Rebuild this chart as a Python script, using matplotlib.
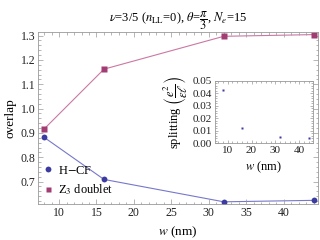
import matplotlib
matplotlib.use("Agg")
import matplotlib.pyplot as plt
from matplotlib.lines import Line2D
from matplotlib.ticker import MultipleLocator

plt.rcParams['font.family'] = ['Liberation Serif', 'DejaVu Serif']
plt.rcParams['mathtext.fontset'] = 'stix'

w = [8, 16, 32, 44]
hcf = [0.882, 0.709, 0.617, 0.623]
z3 = [0.916, 1.162, 1.297, 1.304]
splitting = [0.043, 0.012, 0.005, 0.004]

blue = '#3b3ba0'
blue_line = '#7777cc'
purple = '#a23c72'
purple_line = '#cc77a2'
frame = '#999999'

fig = plt.figure(figsize=(3.2, 2.4), dpi=100)
ax = fig.add_axes([0.119, 0.15, 0.875, 0.717])

ax.plot(w, hcf, '-', color=blue_line, lw=0.8, zorder=1)
ax.plot(w, hcf, 'o', color=blue, ms=4.2, mec='none', zorder=2)
ax.plot(w, z3, '-', color=purple_line, lw=0.8, zorder=1)
ax.plot(w, z3, 's', color=purple, ms=4, mec='none', zorder=2)

ax.set_xlim(7.2, 44.6)
ax.set_ylim(0.608, 1.315)
ax.xaxis.set_major_locator(MultipleLocator(5))
ax.xaxis.set_minor_locator(MultipleLocator(1))
ax.yaxis.set_major_locator(MultipleLocator(0.1))
ax.yaxis.set_minor_locator(MultipleLocator(0.02))
ax.yaxis.set_major_formatter(matplotlib.ticker.FormatStrFormatter('%.1f'))
ax.tick_params(which='both', direction='in', top=True, right=True, colors=frame,
               labelcolor='#222222', labelsize=8.5, pad=2)
ax.tick_params(which='major', length=3.5, width=0.5)
ax.tick_params(which='minor', length=1.8, width=0.5)
for s in ax.spines.values():
    s.set_color(frame)
    s.set_linewidth(0.6)

ax.set_xlabel(r'$w$ (nm)', fontsize=9.5, labelpad=4)
ax.set_ylabel('overlap', fontsize=9.5, labelpad=3)
ax.set_title(r'$\nu$=3/5 ($n_{\rm LL}$=0), $\theta$=$\dfrac{\pi}{3}$, $N_e$=15', fontsize=9, pad=1)

handles = [Line2D([], [], marker='o', color=blue, ls='none', ms=4.2, mec='none'),
           Line2D([], [], marker='s', color=purple, ls='none', ms=3.6, mec='none')]
ax.legend(handles, ['H$-$CF', r'Z$_3$ doublet'], loc='lower left', frameon=False,
          fontsize=9, handlelength=0.8, handletextpad=0.4, labelspacing=0.45,
          borderaxespad=0.0, bbox_to_anchor=(0.0, 0.01))

ins = fig.add_axes([0.672, 0.403, 0.305, 0.26])
ins.plot(w, splitting, 's', color=blue, ms=1.6, mec='none')
ins.set_xlim(4.7, 45.6)
ins.set_ylim(0, 0.05)
ins.xaxis.set_major_locator(MultipleLocator(10))
ins.xaxis.set_minor_locator(MultipleLocator(2))
ins.yaxis.set_major_locator(MultipleLocator(0.01))
ins.yaxis.set_minor_locator(MultipleLocator(0.002))
ins.yaxis.set_major_formatter(matplotlib.ticker.FormatStrFormatter('%.2f'))
ins.tick_params(which='both', direction='in', top=True, right=True, colors=frame,
                labelcolor='#222222', labelsize=8, pad=2)
ins.tick_params(which='major', length=2.5, width=0.5)
ins.tick_params(which='minor', length=1.3, width=0.5)
for s in ins.spines.values():
    s.set_color(frame)
    s.set_linewidth(0.6)
ins.set_xlabel(r'$w$ (nm)', fontsize=9, labelpad=3)
ins.set_ylabel(r'splitting $\left(\dfrac{e^2}{\epsilon\ell}\right)$', fontsize=9, labelpad=2)

fig.savefig('out.png', dpi=100)
